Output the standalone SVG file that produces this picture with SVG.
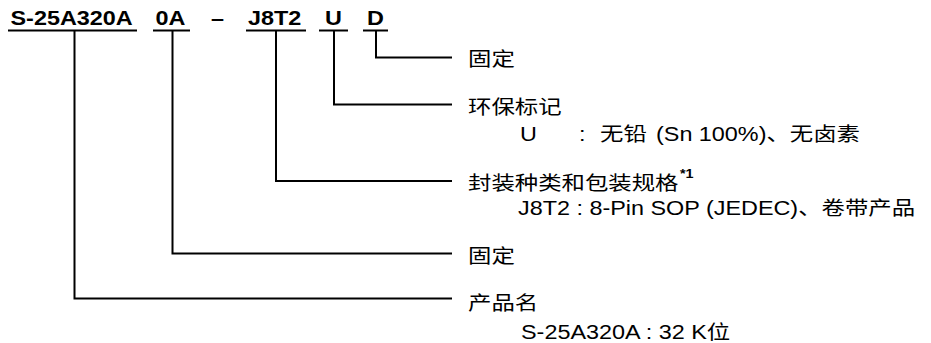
<svg xmlns="http://www.w3.org/2000/svg" width="931" height="343" viewBox="0 0 931 343">
  <style>
    text { font-family: "Liberation Sans", "Noto Sans CJK SC", sans-serif; font-size: 19.5px; fill: #000; }
    .b { font-weight: bold; }
    .sup { font-weight: bold; font-size: 12px; }
    .ln { fill: none; stroke: #000; stroke-width: 2; }
  </style>
  <rect width="931" height="343" fill="#fff"/>

  <g id="code">
    <g id="code-s25a320a">
      <text class="b" transform="translate(10.5,25) scale(1.2,1)">S-25A320A</text>
      <line class="ln" x1="8" y1="30.5" x2="137" y2="30.5"/>
    </g>
    <g id="code-0a">
      <text class="b" transform="translate(155.5,25) scale(1.2,1)">0A</text>
      <line class="ln" x1="153" y1="30.5" x2="190" y2="30.5"/>
    </g>
    <g id="code-dash">
      <text class="b" transform="translate(211,25) scale(1.2,1)">–</text>
    </g>
    <g id="code-j8t2">
      <text class="b" transform="translate(248,25) scale(1.2,1)">J8T2</text>
      <line class="ln" x1="246" y1="30.5" x2="306" y2="30.5"/>
    </g>
    <g id="code-u">
      <text class="b" transform="translate(325,25) scale(1.2,1)">U</text>
      <line class="ln" x1="319" y1="30.5" x2="348" y2="30.5"/>
    </g>
    <g id="code-d">
      <text class="b" transform="translate(367,25) scale(1.2,1)">D</text>
      <line class="ln" x1="363" y1="30.5" x2="388" y2="30.5"/>
    </g>
  </g>

  <g id="connectors">
    <path class="ln" d="M376,30.5 V57.5 H452"/>
    <path class="ln" d="M334,30.5 V104.5 H452"/>
    <path class="ln" d="M276,30.5 V181 H452"/>
    <path class="ln" d="M172.5,30.5 V253.5 H452"/>
    <path class="ln" d="M74.5,30.5 V298.5 H452"/>
  </g>

  <g id="label-fixed-1">
    <text transform="translate(468,66) scale(1.2,1)">固定</text>
  </g>
  <g id="label-eco">
    <text transform="translate(468,114) scale(1.2,1)">环保标记</text>
    <text transform="translate(520,140.5) scale(1.2,1)">U</text>
    <text transform="translate(579,140.5) scale(1.2,1)">:</text>
    <text transform="translate(600,140.5) scale(1.2,1)">无铅</text>
    <text transform="translate(656,140.5) scale(1.2,1)">(Sn 100%)、无卤素</text>
  </g>
  <g id="label-package">
    <text transform="translate(468,190) scale(1.2,1)">封装种类和包装规格</text>
    <text class="sup" transform="translate(680,178) scale(1.2,1)">*1</text>
    <text transform="translate(518,215) scale(1.2,1)">J8T2 : 8-Pin SOP (JEDEC)、卷带产品</text>
  </g>
  <g id="label-fixed-2">
    <text transform="translate(468,262.5) scale(1.2,1)">固定</text>
  </g>
  <g id="label-product">
    <text transform="translate(468,310) scale(1.2,1)">产品名</text>
    <text transform="translate(521,338.5) scale(1.2,1)">S-25A320A : 32 K位</text>
  </g>
</svg>
